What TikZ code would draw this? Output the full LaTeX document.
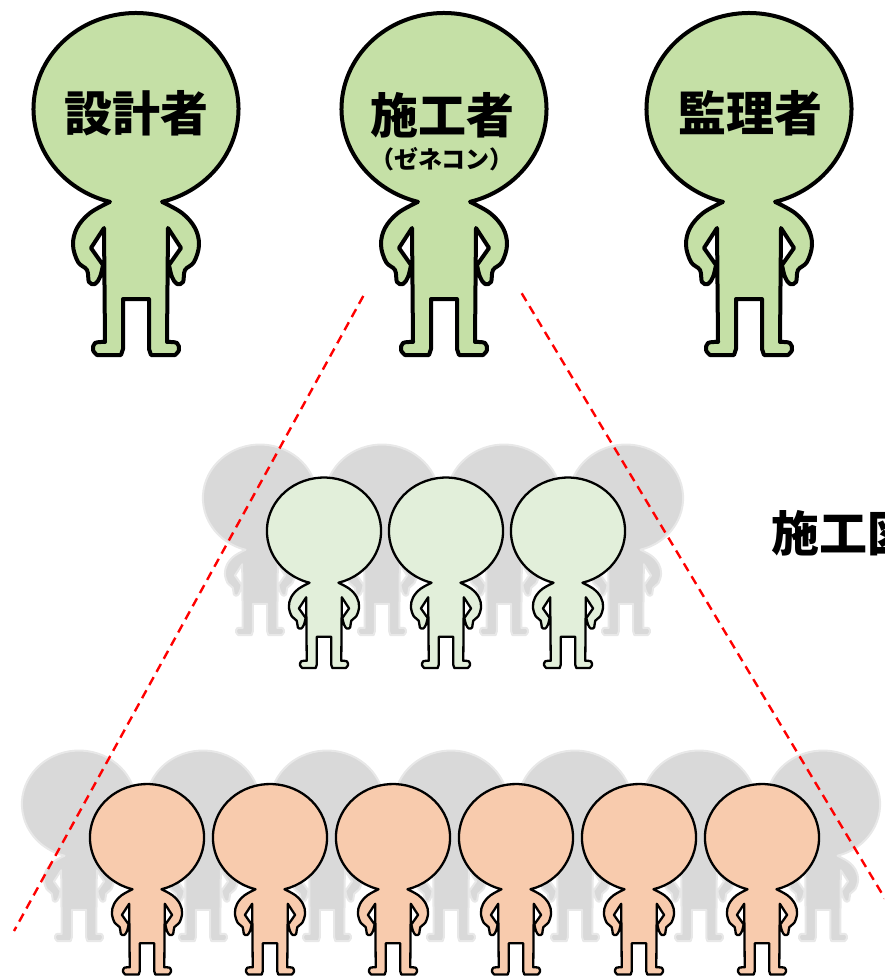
\documentclass[tikz,border=0pt]{standalone}
\usepackage{fontspec}
\newfontfamily\jp{Noto Sans CJK JP}
\definecolor{leadgreen}{HTML}{C5E0A6}
\definecolor{subgreen}{HTML}{E2EFDA}
\definecolor{workpeach}{HTML}{F8CBAD}
\definecolor{shadowgray}{HTML}{D9D9D9}
\definecolor{shadowedge}{HTML}{E8E8E8}

\tikzset{
  % a standing figure: big round head, hands on hips; origin = head centre
  person/.pic={
    \path[pic actions, line join=round]
      (-75.3:102.5 and 96)
      arc[start angle=-75.3, end angle=255.3, x radius=102.5, y radius=96]
      -- plot[smooth, tension=0.6] coordinates {(-26,-92.9) (-46,-104) (-59,-119) (-63,-136) (-58,-153) (-49,-161) (-47,-173) (-41,-175) (-36,-168) (-33,-156)}
      -- (-45,-139) -- (-32,-119) -- (-31,-233)
      -- plot[smooth, tension=0.6] coordinates {(-31,-233) (-41,-234) (-43,-241) (-39,-246)}
      -- (-15,-246) -- (-13,-240) -- (-13,-190) -- (13,-190) -- (13,-240) -- (15,-246) -- (39,-246)
      -- plot[smooth, tension=0.6] coordinates {(39,-246) (43,-241) (41,-234) (31,-233)}
      -- (32,-119) -- (45,-139) -- (33,-156)
      -- plot[smooth, tension=0.6] coordinates {(33,-156) (36,-168) (41,-175) (47,-173) (49,-161) (58,-153) (63,-136) (59,-119) (46,-104) (26,-92.9)}
      -- cycle;
  },
  leadfig/.style={fill=leadgreen, draw=black, line width=4pt},
  subfig/.style={fill=subgreen, draw=black, line width=2.3pt, scale=0.557},
  workfig/.style={fill=workpeach, draw=black, line width=2.3pt, scale=0.557},
  shadowfig/.style={fill=shadowgray, draw=shadowedge, line width=2pt, scale=0.557},
  headtext/.style={font=\jp\bfseries\fontsize{48}{48}\selectfont, inner sep=0pt},
  subtext/.style={font=\jp\bfseries\fontsize{24}{24}\selectfont, inner sep=0pt},
  fanline/.style={draw=red, line width=2.4pt, dash pattern=on 9pt off 6pt}
}

\begin{document}
\begin{tikzpicture}[x=1pt, y=1pt]
  \useasboundingbox (0,0) rectangle (884,-977);
  \clip (0,0) rectangle (884,-977);

  % top row: the three leading parties
  \pic[leadfig] at (136,-109) {person};
  \pic[leadfig] at (444,-109) {person};
  \pic[leadfig] at (749,-109) {person};
  \node[headtext] (designer) at (136,-113) {設計者};
  \node[headtext] (builder) at (442,-115) {施工者};
  \node[subtext] (gencon) at (442,-159) {（ゼネコン）};
  \node[headtext] (supervisor) at (750,-113) {監理者};

  % background crowds of both tiers
  \foreach \x in {260,382,504,626}
    \pic[shadowfig] at (\x,-498) {person};
  \foreach \x in {79,203,327,451,575,699,823}
    \pic[shadowfig] at (\x,-804) {person};

  % fan-out from the general contractor
  \coordinate (fanLtop) at (363.3,-296);
  \coordinate (fanLbot) at (14,-931);
  \coordinate (fanRtop) at (521.7,-293.3);
  \coordinate (fanRbot) at (890,-907);
  \draw[fanline] (fanLtop) -- (fanLbot);
  \draw[fanline] (fanRtop) -- (fanRbot);

  % front figures of both tiers
  \foreach \x in {324,446,568}
    \pic[subfig] at (\x,-531) {person};
  \foreach \x in {147,270,393,516,639,762}
    \pic[workfig] at (\x,-837.5) {person};

  \node[headtext, anchor=west] (drawings) at (771,-533) {施工図};
\end{tikzpicture}
\end{document}
